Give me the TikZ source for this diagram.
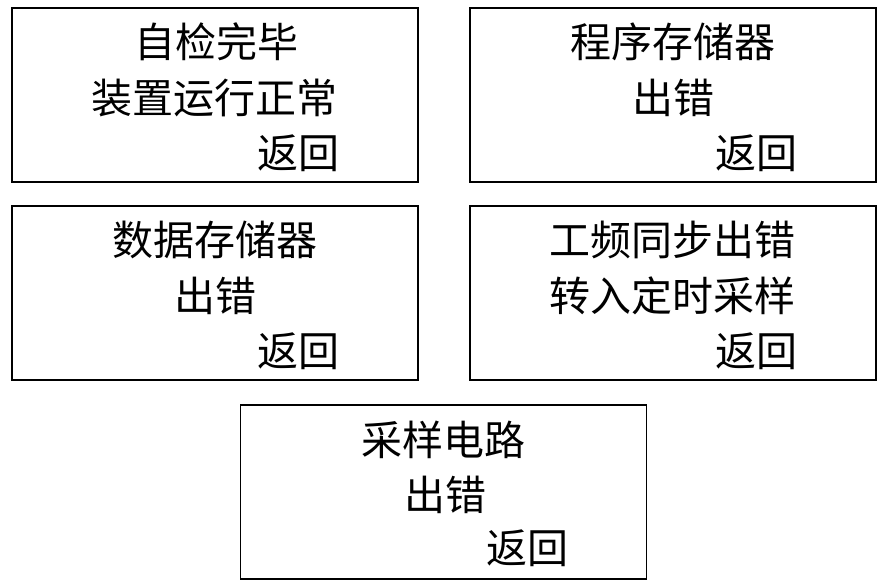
\documentclass[tikz,border=0pt]{standalone}
\usepackage{fontspec}
\newfontfamily\cjk{Noto Sans CJK SC}
\definecolor{msgInk}{RGB}{0,0,0}
\tikzset{
  msgbox/.style={draw=msgInk,line width=1.2pt,minimum width=406pt,minimum height=174pt},
  msgline/.style={text=msgInk,font=\cjk\fontsize{41}{43}\selectfont}
}
\begin{document}
\begin{tikzpicture}[x=1pt,y=1pt,inner sep=0pt,outer sep=0pt]
\useasboundingbox (0,0) rectangle (890,587);
% top row
\node[msgbox] (selfcheck) at (215.0,492.0) {};
\node[msgline] (selfcheckA) at (216.0,545.0) {自检完毕};
\node[msgline] (selfcheckB) at (214.0,489.0) {装置运行正常};
\node[msgline] (selfcheckC) at (298.0,434.0) {返回};
\node[msgbox] (progmem) at (673.0,492.0) {};
\node[msgline] (progmemA) at (673.0,545.0) {程序存储器};
\node[msgline] (progmemB) at (673.0,489.0) {出错};
\node[msgline] (progmemC) at (756.0,434.0) {返回};
% middle row
\node[msgbox] (datamem) at (215.0,294.0) {};
\node[msgline] (datamemA) at (215.0,347.0) {数据存储器};
\node[msgline] (datamemB) at (215.0,291.0) {出错};
\node[msgline] (datamemC) at (298.0,236.0) {返回};
\node[msgbox] (linesync) at (673.0,294.0) {};
\node[msgline] (linesyncA) at (672.0,347.0) {工频同步出错};
\node[msgline] (linesyncB) at (672.0,291.0) {转入定时采样};
\node[msgline] (linesyncC) at (756.0,236.0) {返回};
% bottom
\node[msgbox] (sampler) at (443.5,95.0) {};
\node[msgline] (samplerA) at (443.5,147.0) {采样电路};
\node[msgline] (samplerB) at (445.0,92.0) {出错};
\node[msgline] (samplerC) at (527.0,39.0) {返回};
\end{tikzpicture}
\end{document}
